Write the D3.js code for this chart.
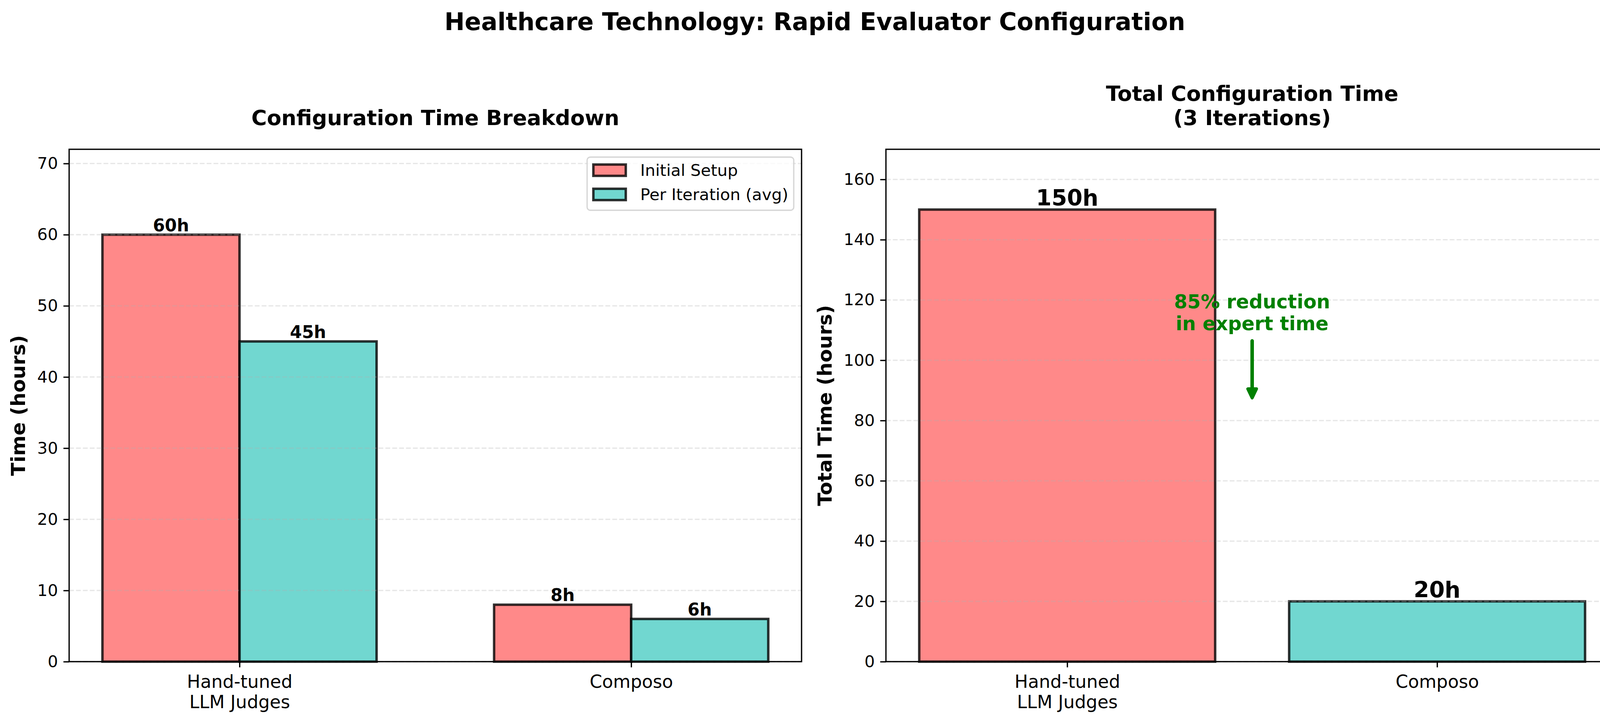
<!DOCTYPE html>
<html>
<head>
<meta charset="utf-8">
<script src="https://cdn.jsdelivr.net/npm/d3@7"></script>
<style>
  html, body { margin: 0; padding: 0; background: #fff; overflow: hidden; }
  svg { display: block; }
  svg text { font-family: "DejaVu Sans", sans-serif; fill: #000; }
</style>
</head>
<body>
<svg id="chart" width="4172" height="1850"></svg>
<script>
// Chart data
const categories = [["Hand-tuned", "LLM Judges"], ["Composo"]];
const seriesNames = ["Initial Setup", "Per Iteration (avg)"];
const initialSetup = [60, 8];
const perIteration = [45, 6];
const totalTime = [150, 20];
const seriesColors = ["#FF6B6B", "#4ECDC4"];
const leftTicks = [0, 10, 20, 30, 40, 50, 60, 70];
const rightTicks = [0, 20, 40, 60, 80, 100, 120, 140, 160];
const noteLines = ["85% reduction", "in expert time"];
const noteX = 0.5, noteY = 110, arrowFrom = 107, arrowTo = 87;

const svg = d3.select("#chart");
const plotTop = 382, plotBottom = 1693;
const green = "#008000";

// Figure title
svg.append("text")
   .attr("x", 2086).attr("y", 77)
   .attr("text-anchor", "middle")
   .style("font-size", "62px").style("font-weight", "bold")
   .text("Healthcare Technology: Rapid Evaluator Configuration");

// Shared panel helper: returns scales and layers
function panel(left, right, xDomain, yMax, ticks, titleLines, yLabel, yLabelX) {
    const x = d3.scaleLinear().domain(xDomain).range([left, right]);
    const y = d3.scaleLinear().domain([0, yMax]).range([plotBottom, plotTop]);
    const g = svg.append("g");
    const bars = g.append("g");
    const grid = g.append("g");
    const labels = g.append("g");

    // Y axis
    const yAxis = g.append("g")
        .attr("transform", `translate(${left},0)`)
        .call(d3.axisLeft(y).tickValues(ticks).tickSize(14.6).tickPadding(14));
    yAxis.select(".domain").remove();
    yAxis.selectAll(".tick line").attr("stroke-width", 3.3);
    yAxis.selectAll(".tick text").style("font-size", "41.7px");

    // X axis
    const xAxis = g.append("g")
        .attr("transform", `translate(0,${plotBottom})`)
        .call(d3.axisBottom(x).tickValues(d3.range(categories.length)).tickSize(14.6));
    xAxis.select(".domain").remove();
    xAxis.selectAll(".tick line").attr("stroke-width", 3.3);
    xAxis.selectAll(".tick text").each(function(d) {
        const t = d3.select(this).text(null).attr("y", null).attr("dy", null)
            .style("font-size", "45.8px");
        categories[d].forEach((line, i) => {
            t.append("tspan").attr("x", 0).attr("y", 67 + i * 52).text(line);
        });
    });

    // Dashed grid (drawn above bars, like matplotlib)
    grid.selectAll("line")
        .data(ticks)
        .enter().append("line")
        .attr("x1", left).attr("x2", right)
        .attr("y1", d => y(d)).attr("y2", d => y(d))
        .attr("stroke", "#b0b0b0").attr("stroke-opacity", 0.3)
        .attr("stroke-width", 3.3).attr("stroke-dasharray", "12.3,5.3");

    // Title
    const title = g.append("text")
        .attr("text-anchor", "middle")
        .style("font-size", "54px").style("font-weight", "bold");
    titleLines.forEach((line, i) => {
        title.append("tspan")
             .attr("x", (left + right) / 2)
             .attr("y", 320 - (titleLines.length - 1 - i) * 62)
             .text(line);
    });

    // Y label
    g.append("text")
     .attr("transform", `translate(${yLabelX},${(plotTop + plotBottom) / 2}) rotate(-90)`)
     .attr("text-anchor", "middle")
     .style("font-size", "50px").style("font-weight", "bold")
     .text(yLabel);

    // Spines
    g.append("rect")
        .attr("x", left).attr("y", plotTop)
        .attr("width", right - left).attr("height", plotBottom - plotTop)
        .attr("fill", "none").attr("stroke", "#000").attr("stroke-width", 3.3);

    return { x, y, g, bars, labels, left, right };
}

function styleBar(sel, color) {
    sel.attr("fill", color).attr("fill-opacity", 0.8)
       .attr("stroke", "#000").attr("stroke-opacity", 0.8)
       .attr("stroke-width", 6.25);
}

// Left panel: grouped bars
const L = panel(177, 2052, [-0.435, 1.435], 72, leftTicks,
                ["Configuration Time Breakdown"], "Time (hours)", 64);
const groupWidth = 0.35;
[initialSetup, perIteration].forEach((values, s) => {
    const offset = (s === 0 ? -1 : 1) * groupWidth / 2;
    L.bars.selectAll(".bar-" + s)
        .data(values)
        .enter().append("rect")
        .attr("class", "bar-" + s)
        .attr("x", (d, i) => L.x(i + offset - groupWidth / 2))
        .attr("width", L.x(groupWidth) - L.x(0))
        .attr("y", d => L.y(d))
        .attr("height", d => L.y(0) - L.y(d))
        .call(styleBar, seriesColors[s]);

    L.labels.selectAll(".label-" + s)
        .data(values)
        .enter().append("text")
        .attr("class", "label-" + s)
        .attr("x", (d, i) => L.x(i + offset))
        .attr("y", d => L.y(d) - 9)
        .attr("text-anchor", "middle")
        .style("font-size", "44px").style("font-weight", "bold")
        .text(d => d + "h");
});

// Legend
const legendFont = 41.7;
const legendW = 529, legendH = 136;
const legendX = L.right - 20 - legendW, legendY = plotTop + 20;
const legend = L.g.append("g").attr("transform", `translate(${legendX},${legendY})`);
legend.append("rect")
      .attr("width", legendW).attr("height", legendH).attr("rx", 8)
      .attr("fill", "#fff").attr("fill-opacity", 0.8)
      .attr("stroke", "#cccccc").attr("stroke-opacity", 0.8).attr("stroke-width", 3.3);
const legendItem = legend.selectAll(".item")
    .data(seriesNames)
    .enter().append("g")
    .attr("class", "item")
    .attr("transform", (d, i) => `translate(0,${i * 62})`);
legendItem.append("rect")
    .attr("x", 16).attr("y", 19)
    .attr("width", 83).attr("height", 29)
    .each(function(d, i) { styleBar(d3.select(this), seriesColors[i]); });
legendItem.append("text")
    .attr("x", 136).attr("y", 48)
    .style("font-size", legendFont + "px")
    .text(d => d);

// Right panel: totals
const R = panel(2268, 4143, [-0.49, 1.49], 170, rightTicks,
                ["Total Configuration Time", "(3 Iterations)"], "Total Time (hours)", 2129);
const barWidth = 0.8;
R.bars.selectAll("rect")
    .data(totalTime)
    .enter().append("rect")
    .attr("x", (d, i) => R.x(i - barWidth / 2))
    .attr("width", R.x(barWidth) - R.x(0))
    .attr("y", d => R.y(d))
    .attr("height", d => R.y(0) - R.y(d))
    .each(function(d, i) { styleBar(d3.select(this), seriesColors[i]); });
R.labels.selectAll("text")
    .data(totalTime)
    .enter().append("text")
    .attr("x", (d, i) => R.x(i))
    .attr("y", d => R.y(d) - 10)
    .attr("text-anchor", "middle")
    .style("font-size", "57px").style("font-weight", "bold")
    .text(d => d + "h");

// Annotation with arrow
const note = R.labels.append("text")
    .attr("text-anchor", "middle")
    .style("font-size", "49px").style("font-weight", "bold")
    .style("fill", green);
noteLines.forEach((line, i) => {
    note.append("tspan")
        .attr("x", R.x(noteX))
        .attr("y", R.y(noteY) - (noteLines.length - 1 - i) * 56)
        .text(line);
});
const ax = R.x(noteX), tipY = R.y(arrowTo);
R.labels.append("line")
    .attr("x1", ax).attr("x2", ax)
    .attr("y1", R.y(arrowFrom) + 4.5).attr("y2", tipY - 20)
    .attr("stroke", green).attr("stroke-width", 9).attr("stroke-linecap", "round");
R.labels.append("path")
    .attr("d", `M${ax},${tipY - 4} L${ax - 11},${tipY - 27} L${ax + 11},${tipY - 27} Z`)
    .attr("fill", green).attr("stroke", green)
    .attr("stroke-width", 8).attr("stroke-linejoin", "round");
</script>
</body>
</html>
